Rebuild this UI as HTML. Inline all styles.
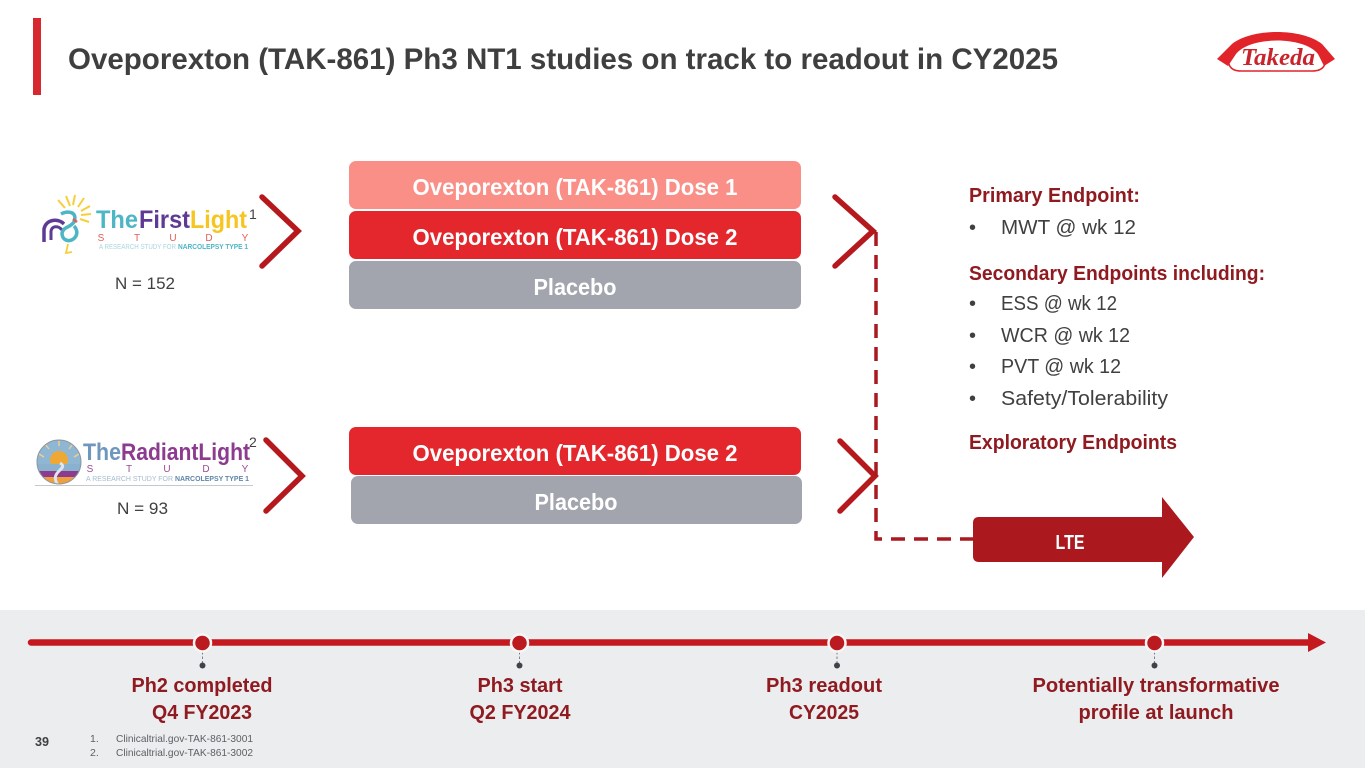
<!DOCTYPE html>
<html lang="en">
<head>
<meta charset="utf-8">
<title>Oveporexton (TAK-861) Ph3 NT1 studies</title>
<style>
html,body{margin:0;padding:0;background:#fff}
svg{display:block}
text{font-family:"Liberation Sans","DejaVu Sans",sans-serif}
.b{font-weight:700}
.btn{font-weight:700;font-size:23px;fill:#fff;text-anchor:middle}
.head{font-weight:700;font-size:20px;fill:#8f1a20}
.body{font-size:20px;fill:#404040}
.ms{font-weight:700;font-size:20px;fill:#8f1a20;text-anchor:middle}
</style>
</head>
<body>
<svg xmlns="http://www.w3.org/2000/svg" width="1365" height="768" viewBox="0 0 1365 768">
<rect width="1365" height="768" fill="#fff"/>
<rect x="33" y="18" width="8" height="77" fill="#d8282f"/>
<text x="68" y="69" class="b" font-size="30" fill="#3f3f3f" textLength="990" lengthAdjust="spacingAndGlyphs">Oveporexton (TAK-861) Ph3 NT1 studies on track to readout in CY2025</text>

<!-- Takeda logo -->
<g>
<path d="M1217 59 L1232 44 C1252 28 1302 28 1322 44 L1335 59 L1324 66 L1318 54 C1304 36 1250 36 1236 54 L1228 66 Z" fill="#e1242a"/>
<path d="M1232 52 C1225 62 1229 71 1241 71 L1312 71 C1325 71 1329 62 1321 52" fill="none" stroke="#e1242a" stroke-width="1.5"/>
<text x="1278" y="65" text-anchor="middle" font-size="24" font-weight="700" font-style="italic" fill="#c9242c" style="font-family:'Liberation Serif',serif" textLength="74" lengthAdjust="spacingAndGlyphs">Takeda</text>
</g>

<!-- FirstLight logo -->
<g>
<g stroke="#f6cf3c" stroke-width="2" fill="none">
<path d="M58 200 L65 208"/><path d="M66 196 L70 206"/><path d="M75 195 L73 205"/><path d="M84 198 L78 207"/><path d="M90 206 L81 211"/><path d="M91 214 L81 215"/><path d="M89 222 L80 219"/>
</g>
<path d="M44 242 V229 C46 219 58 218 64 224" fill="none" stroke="#5f3a94" stroke-width="3.500"/>
<path d="M51 240 V231 C52 226 58 225 62 230" fill="none" stroke="#5f3a94" stroke-width="3"/>
<path d="M61 214 C68 210 78 212 74 222 C70 228 64 226 62 233 C62 242 72 243 76 236 C78 232 76 228 74 226" fill="none" stroke="#4cb6c4" stroke-width="3.500"/>
<path d="M73 219 L77 222" stroke="#e25a5a" stroke-width="2.500"/>
<path d="M68 244 L66 253 L72 252" stroke="#f6cf3c" stroke-width="1.800" fill="none"/>
<text x="96" y="228" font-size="25" font-weight="700" fill="#4cb6c4" textLength="42" lengthAdjust="spacingAndGlyphs">The</text>
<text x="139" y="228" font-size="25" font-weight="700" fill="#5f3a94" textLength="51" lengthAdjust="spacingAndGlyphs">First</text>
<text x="190" y="228" font-size="25" font-weight="700" fill="#f6c51f" textLength="57" lengthAdjust="spacingAndGlyphs">Light</text>
<g font-size="10" fill="#e0605c" text-anchor="middle"><text x="101" y="241">S</text><text x="137" y="241">T</text><text x="173" y="241">U</text><text x="209" y="241">D</text><text x="245" y="241">Y</text></g>
<text x="99" y="249" font-size="7" fill="#a7d6de" textLength="77" lengthAdjust="spacingAndGlyphs">A RESEARCH STUDY FOR</text>
<text x="178" y="249" font-size="7" font-weight="700" fill="#4cb6c4" textLength="70" lengthAdjust="spacingAndGlyphs">NARCOLEPSY TYPE 1</text>
</g>
<text x="249" y="219" font-size="14" fill="#404040">1</text>
<text x="115" y="289" font-size="17" fill="#404040" textLength="60" lengthAdjust="spacingAndGlyphs">N = 152</text>

<!-- RadiantLight logo -->
<g>
<clipPath id="rc"><circle cx="59" cy="462" r="22"/></clipPath>
<g clip-path="url(#rc)">
<rect x="37" y="440" width="44" height="44" fill="#8fb7d3"/>
<circle cx="59" cy="460" r="9" fill="#f0a835"/>
<g stroke="#f4cf86" stroke-width="1.400"><path d="M59 446 V441"/><path d="M49 449 L45 444"/><path d="M69 449 L73 444"/><path d="M44 457 L39 454"/><path d="M74 457 L79 454"/></g>
<rect x="37" y="464" width="44" height="7" fill="#8ab1cd"/>
<rect x="37" y="471" width="44" height="6" fill="#8c3b8f"/>
<rect x="37" y="477" width="44" height="7" fill="#ef9f3c"/>
<path d="M60 463 C70 469 48 471 58 485" stroke="#dbe6ee" stroke-width="3" fill="none"/>
</g>
<circle cx="59" cy="462" r="22" fill="none" stroke="#8a97a3" stroke-width="1"/>
<text x="83" y="460" font-size="24.500" font-weight="700" fill="#6f97bd" textLength="38" lengthAdjust="spacingAndGlyphs">The</text>
<text x="121" y="460" font-size="24.500" font-weight="700" fill="#8c3b8f" textLength="129" lengthAdjust="spacingAndGlyphs">RadiantLight</text>
<g font-size="10" fill="#9c4a8f" text-anchor="middle"><text x="90" y="472">S</text><text x="129" y="472">T</text><text x="167" y="472">U</text><text x="206" y="472">D</text><text x="245" y="472">Y</text></g>
<text x="86" y="481" font-size="7" fill="#a5bccd" textLength="87" lengthAdjust="spacingAndGlyphs">A RESEARCH STUDY FOR</text>
<text x="175" y="481" font-size="7" font-weight="700" fill="#5f86a8" textLength="74" lengthAdjust="spacingAndGlyphs">NARCOLEPSY TYPE 1</text>
<path d="M35 485.500 H253" stroke="#c6c9cc" stroke-width="1"/>
</g>
<text x="249" y="447" font-size="14" fill="#404040">2</text>
<text x="117" y="514" font-size="17" fill="#404040" textLength="51" lengthAdjust="spacingAndGlyphs">N = 93</text>

<!-- chevrons -->
<g fill="none" stroke="#b5191d" stroke-width="5.500" stroke-linecap="round" stroke-linejoin="miter">
<path d="M262 197 L298 231 L262 266"/>
<path d="M266 440 L302 476 L266 511"/>
<path d="M835 197 L873 231 L835 266"/>
<path d="M840 441 L875 476 L840 511"/>
</g>

<!-- arms -->
<rect x="349" y="161" width="452" height="48" rx="7" fill="#fa8f87"/>
<text x="575" y="195" class="btn" textLength="325" lengthAdjust="spacingAndGlyphs">Oveporexton (TAK-861) Dose 1</text>
<rect x="349" y="211" width="452" height="48" rx="7" fill="#e3272d"/>
<text x="575" y="245" class="btn" textLength="325" lengthAdjust="spacingAndGlyphs">Oveporexton (TAK-861) Dose 2</text>
<rect x="349" y="261" width="452" height="48" rx="7" fill="#a2a5ad"/>
<text x="575" y="295" class="btn" textLength="83" lengthAdjust="spacingAndGlyphs">Placebo</text>
<rect x="349" y="427" width="452" height="48" rx="7" fill="#e3272d"/>
<text x="575" y="461" class="btn" textLength="325" lengthAdjust="spacingAndGlyphs">Oveporexton (TAK-861) Dose 2</text>
<rect x="351" y="476" width="451" height="48" rx="7" fill="#a2a5ad"/>
<text x="576" y="510" class="btn" textLength="83" lengthAdjust="spacingAndGlyphs">Placebo</text>

<!-- dashed connector -->
<path d="M876 232 V539 H973" fill="none" stroke="#a9191f" stroke-width="3.500" stroke-dasharray="14 9"/>

<!-- LTE arrow -->
<path d="M979 517 H1162 V497 L1194 537 L1162 578 V562 H979 Q973 562 973 556 V523 Q973 517 979 517 Z" fill="#ab191e"/>
<text x="1070" y="549" font-weight="700" font-size="20" fill="#fff" text-anchor="middle" textLength="29" lengthAdjust="spacingAndGlyphs">LTE</text>

<!-- endpoints -->
<text x="969" y="202" class="head" textLength="171" lengthAdjust="spacingAndGlyphs">Primary Endpoint:</text>
<text x="969" y="234" class="body">•</text>
<text x="1001" y="234" class="body" textLength="135" lengthAdjust="spacingAndGlyphs">MWT @ wk 12</text>
<text x="969" y="280" class="head" textLength="296" lengthAdjust="spacingAndGlyphs">Secondary Endpoints including:</text>
<text x="969" y="310" class="body">•</text>
<text x="1001" y="310" class="body" textLength="116" lengthAdjust="spacingAndGlyphs">ESS @ wk 12</text>
<text x="969" y="342" class="body">•</text>
<text x="1001" y="342" class="body" textLength="129" lengthAdjust="spacingAndGlyphs">WCR @ wk 12</text>
<text x="969" y="373" class="body">•</text>
<text x="1001" y="373" class="body" textLength="120" lengthAdjust="spacingAndGlyphs">PVT @ wk 12</text>
<text x="969" y="405" class="body">•</text>
<text x="1001" y="405" class="body" textLength="167" lengthAdjust="spacingAndGlyphs">Safety/Tolerability</text>
<text x="969" y="449" class="head" textLength="208" lengthAdjust="spacingAndGlyphs">Exploratory Endpoints</text>

<!-- footer band -->
<rect x="0" y="610" width="1365" height="158" fill="#ecedef"/>
<path d="M31 642.500 H1308" stroke="#c4191f" stroke-width="6.500" stroke-linecap="round"/>
<path d="M1308 633 L1326 642.500 L1308 652 Z" fill="#c4191f"/>
<g>
<g stroke="#7c7f84" stroke-width="1" stroke-dasharray="2.500 2"><path d="M202.500 652 V664"/><path d="M519.500 652 V664"/><path d="M837 652 V664"/><path d="M1154.500 652 V664"/></g>
<g fill="#3f4349"><circle cx="202.500" cy="665.500" r="3"/><circle cx="519.500" cy="665.500" r="3"/><circle cx="837" cy="665.500" r="3"/><circle cx="1154.500" cy="665.500" r="3"/></g>
<g fill="#bb1a20" stroke="#f6f6f7" stroke-width="2.500"><circle cx="202.500" cy="643" r="8.500"/><circle cx="519.500" cy="643" r="8.500"/><circle cx="837" cy="643" r="8.500"/><circle cx="1154.500" cy="643" r="8.500"/></g>
</g>
<text x="202" y="692" class="ms" textLength="141" lengthAdjust="spacingAndGlyphs">Ph2 completed</text>
<text x="202" y="719" class="ms" textLength="100" lengthAdjust="spacingAndGlyphs">Q4 FY2023</text>
<text x="520" y="692" class="ms" textLength="85" lengthAdjust="spacingAndGlyphs">Ph3 start</text>
<text x="520" y="719" class="ms" textLength="101" lengthAdjust="spacingAndGlyphs">Q2 FY2024</text>
<text x="824" y="692" class="ms" textLength="116" lengthAdjust="spacingAndGlyphs">Ph3 readout</text>
<text x="824" y="719" class="ms" textLength="70" lengthAdjust="spacingAndGlyphs">CY2025</text>
<text x="1156" y="692" class="ms" textLength="247" lengthAdjust="spacingAndGlyphs">Potentially transformative</text>
<text x="1156" y="719" class="ms" textLength="155" lengthAdjust="spacingAndGlyphs">profile at launch</text>

<text x="35" y="746" class="b" font-size="13" fill="#404040" textLength="14" lengthAdjust="spacingAndGlyphs">39</text>
<text x="90" y="742" font-size="10.500" fill="#5d5f63">1.</text>
<text x="116" y="742" font-size="10.500" fill="#5d5f63" textLength="137" lengthAdjust="spacingAndGlyphs">Clinicaltrial.gov-TAK-861-3001</text>
<text x="90" y="756" font-size="10.500" fill="#5d5f63">2.</text>
<text x="116" y="756" font-size="10.500" fill="#5d5f63" textLength="137" lengthAdjust="spacingAndGlyphs">Clinicaltrial.gov-TAK-861-3002</text>
</svg>
</body>
</html>
